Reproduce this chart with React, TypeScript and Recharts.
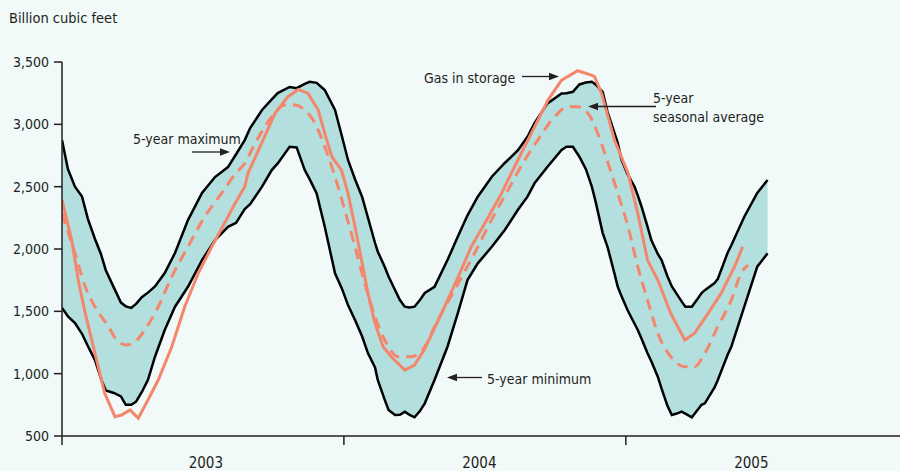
import React from "react";
import { ComposedChart, Area, Line, XAxis, YAxis } from "recharts";

// x is weeks since the first week of 2003
const bandWeek = [
  0, 1.1, 2.4, 3.7, 4.8, 6.1, 7.2, 8.1, 9.6, 10.9, 11.8, 12.8, 13.7, 14.8, 15.9, 17.2, 19.0, 20.9, 23.3, 25.9,
  28.3, 30.7, 32.2, 33.8, 34.8, 37.0, 38.8, 39.9, 42.1, 43.4, 44.9, 45.8, 47.1, 48.6, 50.5, 51.8, 52.9, 54.2,
  55.5, 56.6, 57.9, 58.4, 59.7, 60.4, 61.6, 62.5, 63.4, 64.3, 65.2, 66.2, 67.1, 68.9, 71.3, 73.2, 75.0, 76.9,
  79.5, 81.9, 84.3, 86.1, 87.4, 89.8, 92.4, 93.3, 94.5, 95.7, 96.9, 98.0, 98.7, 100.0, 100.9, 102.2, 102.8,
  103.5, 104.6, 105.9, 106.5, 107.2, 108.3, 109.0, 110.2, 110.9, 112.0, 112.8, 113.7, 114.6, 115.3, 116.5,
  117.4, 118.3, 118.9, 120.7, 121.3, 123.1, 123.8, 126.2, 128.6, 130.5,
];
const bandMin = [
  1527, 1460, 1406, 1320, 1220, 1109, 960, 865, 845, 818, 750, 750, 775, 855, 950, 1136, 1350, 1537, 1697, 1911,
  2072, 2178, 2210, 2320, 2360, 2500, 2633, 2687, 2820, 2815, 2633, 2560, 2446, 2178, 1805, 1680, 1550, 1430,
  1300, 1163, 1050, 949, 790, 709, 668, 670, 695, 670, 650, 700, 762, 949, 1216, 1484, 1751, 1885,
  2018, 2152, 2313, 2420, 2527, 2660, 2794, 2820, 2820, 2740, 2640, 2500, 2380, 2130, 2018, 1800, 1697,
  1620, 1511, 1400, 1350, 1280, 1163, 1100, 976, 880, 740, 668, 680, 695, 680, 650,
  700, 750, 762, 890, 949, 1150, 1216, 1537, 1858, 1965,
];
const bandMax = [
  2874, 2640, 2500, 2420, 2240, 2080, 1960, 1830, 1690, 1570, 1540, 1527, 1560, 1615, 1650, 1700, 1807, 1968, 2232, 2449,
  2577, 2657, 2760, 2874, 2970, 3115, 3200, 3251, 3300, 3290, 3325, 3341, 3333, 3275, 3115, 2900, 2714, 2560,
  2419, 2250, 2048, 1980, 1855, 1780, 1671, 1590, 1537, 1530, 1537, 1590, 1647, 1697, 1911, 2098, 2270, 2419,
  2580, 2690, 2790, 2900, 3010, 3168, 3248, 3250, 3261, 3320, 3335, 3341, 3320, 3260, 3100, 2930, 2850,
  2714, 2600, 2500, 2430, 2339, 2180, 2072, 1960, 1911, 1780, 1700, 1640, 1580, 1537, 1537,
  1590, 1647, 1670, 1727, 1760, 1968, 2030, 2259, 2450, 2553,
];

const gasWeek = [
  0, 1.8, 3.0, 4.3, 6.1, 7.9, 9.8, 11.0, 12.6, 14.1, 15.9, 17.8, 20.3, 22.7, 25.2, 27.7, 30.7, 32.0, 33.8, 34.4,
  36.9, 39.4, 41.8, 43.7, 45.5, 47.4, 48.6, 49.9, 51.7, 52.9, 54.2, 55.4, 56.6, 57.9, 59.4, 60.9, 63.4, 65.2,
  67.1, 70.2, 73.3, 75.7, 78.2, 81.3, 83.7, 86.8, 89.9, 92.4, 95.4, 97.9, 98.5, 99.8, 102.2, 104.7, 106.5,
  108.3, 110.2, 112.6, 115.2, 117.0, 119.5, 121.9, 124.4, 125.9,
];
const gasValue = [
  2393, 2072, 1751, 1484, 1163, 842, 655, 668, 709, 642, 789, 949, 1216, 1537, 1805, 2018, 2259, 2366, 2500, 2607,
  2847, 3088, 3222, 3280, 3248, 3115, 2927, 2740, 2633, 2446, 2178, 1911, 1644, 1404, 1216, 1136, 1029, 1069,
  1200, 1484, 1778, 2018, 2206, 2446, 2660, 2927, 3195, 3355, 3430, 3395, 3382, 3248, 2874, 2607, 2286,
  1911, 1751, 1484, 1270, 1324, 1484, 1644, 1858, 2018,
];

const avgWeek = [
  0, 2.4, 4.3, 6.1, 8.6, 10.4, 12.0, 13.5, 15.3, 17.8, 20.3, 23.3, 26.4, 29.5, 32.0, 33.8, 35.7, 38.8, 41.2, 43.1,
  44.9, 46.8, 48.6, 50.5, 52.3, 54.2, 56.0, 57.9, 59.7, 62.2, 64.6, 67.1, 68.9, 72.6, 76.3, 79.4, 82.5, 85.6,
  88.0, 91.1, 93.6, 95.4, 97.3, 99.1, 100.4, 102.8, 104.7, 106.5, 108.3, 110.2, 112.6, 115.2, 117.0, 118.9,
  121.3, 123.8, 125.6, 126.9,
];
const avgValue = [
  2286, 1965, 1697, 1537, 1377, 1256, 1230, 1256, 1350, 1537, 1778, 2018, 2259, 2446, 2600, 2687, 2847, 3061, 3155, 3155,
  3115, 3008, 2820, 2580, 2313, 2018, 1725, 1457, 1270, 1136, 1136, 1216, 1377, 1671, 1965, 2232, 2473, 2714,
  2874, 3061, 3141, 3141, 3088, 2927, 2767, 2446, 2178, 1858, 1591, 1324, 1136, 1056, 1056, 1163,
  1377, 1591, 1805, 1870,
];

const yTicks = [500, 1000, 1500, 2000, 2500, 3000, 3500];
const yearStarts = [0, 52.14, 104.29];
const yearLabels = [
  { week: 26.6, label: "2003" },
  { week: 77.2, label: "2004" },
  { week: 127.5, label: "2005" },
];

const band = bandWeek.map((week, i) => ({ week, range: [bandMin[i], bandMax[i]] }));
const gas = gasWeek.map((week, i) => ({ week, value: gasValue[i] }));
const avg = avgWeek.map((week, i) => ({ week, value: avgValue[i] }));

const FONT = "'DejaVu Sans Condensed', 'Liberation Sans', Arial, sans-serif";
const INK = "#231f20";
const ORANGE = "#f4866b";

function YearTick({ x, y, payload }: { x?: number; y?: number; payload?: { value: number } }) {
  const v = payload?.value ?? 0;
  const lbl = yearLabels.find((d) => d.week === v);
  if (lbl) {
    return (
      <text x={x} y={(y ?? 0) + 32} textAnchor="middle" fontSize={15} fill={INK} fontFamily={FONT}>
        {lbl.label}
      </text>
    );
  }
  return <line x1={x} x2={x} y1={y} y2={(y ?? 0) + 9} stroke={INK} strokeWidth={1.5} />;
}

function Arrow({ x1, x2, y }: { x1: number; x2: number; y: number }) {
  const dir = x2 > x1 ? 1 : -1;
  return (
    <g>
      <line x1={x1} x2={x2 - dir * 6} y1={y} y2={y} stroke={INK} strokeWidth={1.3} />
      <path d={`M${x2},${y} L${x2 - dir * 10},${y - 3.8} L${x2 - dir * 10},${y + 3.8} Z`} fill={INK} />
    </g>
  );
}

export default function App() {
  return (
    <div style={{ position: "absolute", left: 0, top: 0, width: 900, height: 471, background: "#f1f9f9" }}>
      <ComposedChart width={900} height={471} margin={{ top: 62, right: 0, bottom: 0, left: 0 }}>
        <XAxis
          type="number"
          dataKey="week"
          domain={[0, 155]}
          ticks={[...yearStarts, ...yearLabels.map((d) => d.week)].sort((a, b) => a - b)}
          tick={<YearTick />}
          tickLine={false}
          tickSize={0}
          tickMargin={0}
          interval={0}
          height={35}
          axisLine={{ stroke: INK, strokeWidth: 1.5 }}
          allowDataOverflow
        />
        <YAxis
          type="number"
          domain={[500, 3500]}
          ticks={yTicks}
          width={62}
          tickSize={8}
          tickMargin={5}
          tickFormatter={(v: number) => v.toLocaleString("en-US")}
          tick={{ fontSize: 14, fill: INK, fontFamily: FONT }}
          tickLine={{ stroke: INK, strokeWidth: 1.5 }}
          axisLine={{ stroke: INK, strokeWidth: 1.5 }}
        />
        <Area
          data={band}
          dataKey="range"
          type="linear"
          stroke="#000"
          strokeWidth={2.5}
          fill="#b3e0df"
          fillOpacity={1}
          isAnimationActive={false}
        />
        <Line
          data={avg}
          dataKey="value"
          type="monotone"
          stroke={ORANGE}
          strokeWidth={3}
          strokeDasharray="11 7"
          dot={false}
          isAnimationActive={false}
        />
        <Line
          data={gas}
          dataKey="value"
          type="linear"
          stroke={ORANGE}
          strokeWidth={3}
          dot={false}
          isAnimationActive={false}
        />
      </ComposedChart>
      <svg
        width={900}
        height={471}
        style={{ position: "absolute", left: 0, top: 0, pointerEvents: "none" }}
        fontFamily={FONT}
        fill={INK}
      >
        <text x={9} y={23} fontSize={14.5}>Billion cubic feet</text>
        <text x={133} y={143.5} fontSize={14}>5-year maximum</text>
        <Arrow x1={192} x2={230} y={152} />
        <text x={424} y={83} fontSize={14}>Gas in storage</text>
        <Arrow x1={522} x2={559} y={76.5} />
        <text x={653} y={103} fontSize={14}>5-year</text>
        <text x={653} y={121.5} fontSize={14}>seasonal average</text>
        <Arrow x1={656} x2={588} y={106.5} />
        <text x={487} y={384} fontSize={14}>5-year minimum</text>
        <Arrow x1={482} x2={447} y={377.5} />
      </svg>
    </div>
  );
}
